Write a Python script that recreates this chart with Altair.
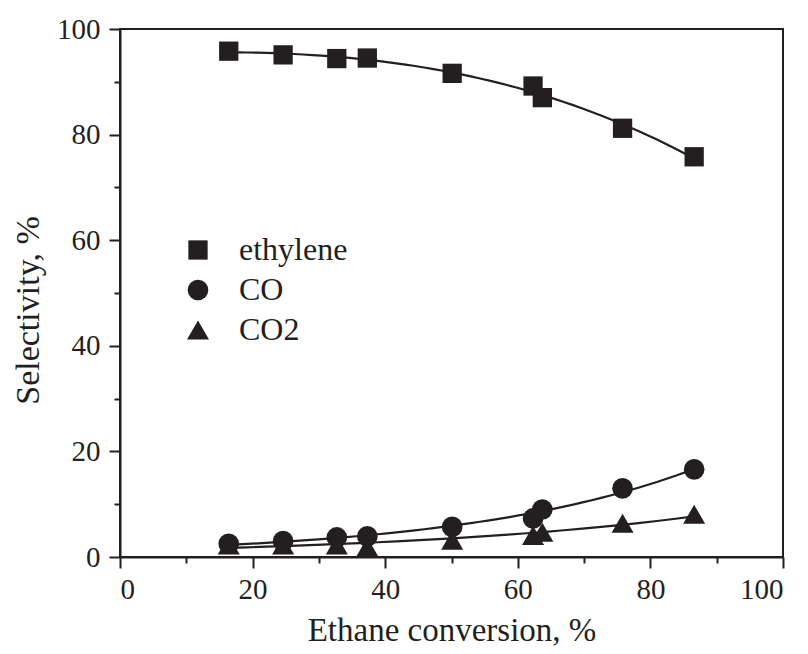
import altair as alt
import pandas as pd

# Data
conversion = [16.4, 24.6, 32.7, 37.3, 50.1, 62.3, 63.7, 75.8, 86.6]
ethylene = [95.8, 95.1, 94.4, 94.5, 91.6, 89.2, 87.0, 81.2, 75.8]
co = [2.5, 3.0, 3.7, 3.9, 5.7, 7.3, 9.0, 13.0, 16.6]
co2 = [2.3, 2.3, 2.3, 1.9, 3.2, 4.1, 4.7, 6.4, 8.1]
series_names = ["ethylene", "CO", "CO2"]
series_shapes = ["square", "circle", "triangle-up"]
series_sizes = [372, 484, 660]
major_ticks = [0, 20, 40, 60, 80, 100]
minor_ticks = [10, 30, 50, 70, 90]

rows = []
for name, vals in zip(series_names, [ethylene, co, co2]):
    for xv, yv in zip(conversion, vals):
        rows.append({"conv": xv, "sel": yv, "series": name})
df = pd.DataFrame(rows)

INK = "#231f20"
FONT = "Liberation Serif"
xscale = alt.Scale(domain=[0, 100], nice=False, zero=False)
yscale = alt.Scale(domain=[0, 100], nice=False, zero=False)

base = alt.Chart(df)

minor_x = alt.Axis(orient="bottom", values=minor_ticks, tickSize=6,
                   labels=False, domain=False, title=None)
minor_y = alt.Axis(orient="left", values=minor_ticks, tickSize=6,
                   labels=False, domain=False, title=None)

line_eth = base.transform_filter(
    alt.datum.series == "ethylene"
).transform_regression(
    "conv", "sel", method="poly", order=3
).mark_line(color=INK, strokeWidth=2.2).encode(
    x=alt.X("conv:Q", scale=xscale, axis=minor_x),
    y=alt.Y("sel:Q", scale=yscale, axis=minor_y),
)

line_ox = base.transform_filter(
    alt.datum.series != "ethylene"
).transform_regression(
    "conv", "sel", groupby=["series"], method="exp"
).mark_line(color=INK, strokeWidth=2.2).encode(
    x=alt.X("conv:Q", scale=xscale, axis=None),
    y=alt.Y("sel:Q", scale=yscale, axis=None),
    detail="series:N",
)

points = base.mark_point(filled=True, color=INK, opacity=1).encode(
    x=alt.X("conv:Q", scale=xscale,
            axis=alt.Axis(orient="bottom", values=major_ticks, tickSize=11,
                          labelPadding=30, labelBaseline="alphabetic",
                          title="Ethane conversion, %", titleY=83,
                          titleBaseline="alphabetic")),
    y=alt.Y("sel:Q", scale=yscale,
            axis=alt.Axis(orient="left", values=major_ticks, tickSize=11,
                          labelPadding=9, title="Selectivity, %",
                          titleX=-82, titleY=281, titleAngle=270,
                          titleFontSize=34,
                          titleBaseline="alphabetic")),
    shape=alt.Shape("series:N",
                    scale=alt.Scale(domain=series_names, range=series_shapes),
                    legend=alt.Legend(title=None)),
    size=alt.Size("series:N",
                  scale=alt.Scale(domain=series_names, range=series_sizes),
                  legend=alt.Legend(title=None)),
)

chart = alt.layer(line_eth, line_ox, points).resolve_axis(
    x="independent", y="independent"
).properties(
    width=663,
    height=528,
    padding={"left": 112, "top": 21, "right": 16, "bottom": 89},
    autosize="none",
).configure_view(
    stroke=INK, strokeWidth=2
).configure_axis(
    grid=False,
    domainColor=INK, domainWidth=2,
    tickColor=INK, tickWidth=2,
    labelFont=FONT, labelFontSize=29, labelColor=INK,
    titleFont=FONT, titleFontSize=33, titleColor=INK, titleFontWeight="normal",
).configure_legend(
    orient="none", legendX=62, legendY=205,
    padding=0, symbolOffset=0,
    labelFont=FONT, labelFontSize=32, labelColor=INK,
    labelOffset=25, rowPadding=8,
    symbolFillColor=INK, symbolStrokeWidth=0, symbolOpacity=1,
)

chart.save("out.html", embed_options={"renderer": "svg", "actions": False})
